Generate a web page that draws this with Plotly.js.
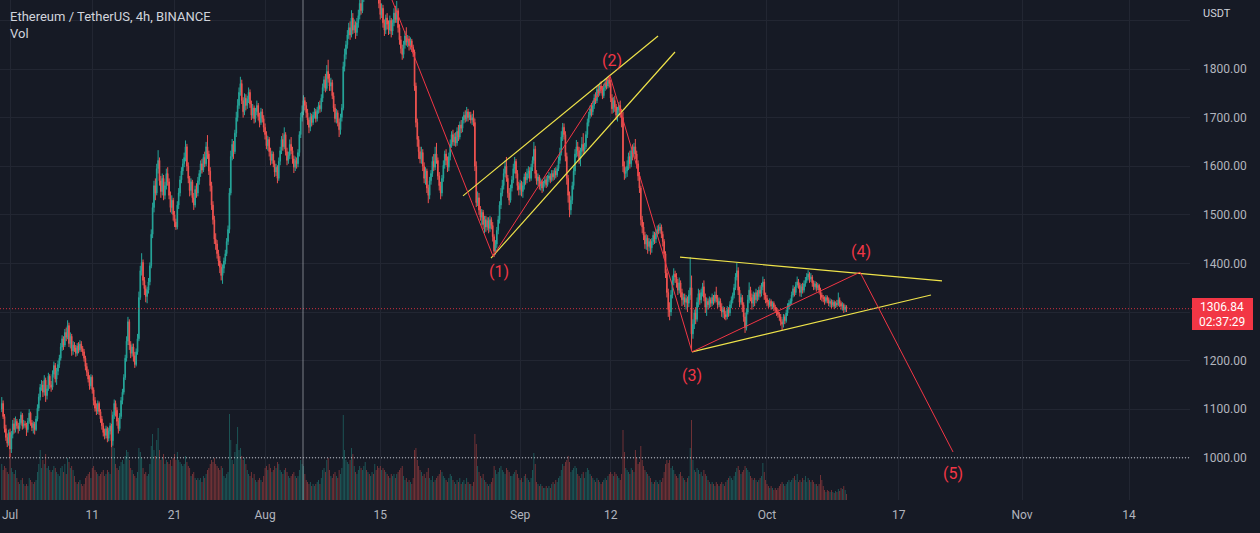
<!DOCTYPE html>
<html><head><meta charset="utf-8">
<script src="https://cdn.plot.ly/plotly-3.0.1.min.js"></script>
<style>html,body{margin:0;padding:0;background:#161a25;}#chart{width:1260px;height:533px;}</style>
</head><body><div id="chart"></div>
<script>
// ETH/USDT 4h candles, first bar 2022-06-30 00:00 UTC
const startTime = '2022-06-30T00:00:00Z';
const barHours = 4;

const open = [
1100,1112,1085,1060,1042,1030,
1052,1018,1048,1070,1058,1075, 1066,1060,1072,1088,1065,1070, 1068,1058,1075,1092,1072,1062, 1070,1058,1080,1102,1125,1145,
1150,1135,1160,1128,1142,1168, 1150,1145,1172,1190,1162,1178, 1192,1205,1228,1245,1232,1258, 1248,1272,1235,1250,1220,1232,
1226,1215,1230,1222,1234,1225, 1218,1205,1188,1176,1162,1148, 1166,1140,1118,1102,1096,1112, 1095,1080,1066,1052,1046,1060,
1040,1055,1066,1035,1088,1112, 1098,1075,1060,1085,1118,1135, 1165,1205,1240,1280,1232,1215, 1228,1210,1192,1218,1245,1330,
1385,1402,1365,1348,1332,1345, 1362,1395,1460,1515,1560,1545, 1595,1612,1570,1548,1575,1540, 1560,1585,1568,1540,1515,1530,
1500,1485,1475,1520,1545,1572, 1590,1605,1618,1640,1600,1575, 1550,1568,1535,1520,1552,1545, 1570,1585,1605,1592,1618,1605,
1640,1625,1590,1560,1520,1490, 1450,1440,1420,1405,1392,1375, 1390,1405,1420,1445,1470,1545, 1620,1645,1630,1668,1700,1725,
1752,1770,1735,1712,1740,1725, 1738,1752,1728,1705,1720,1698, 1712,1725,1702,1690,1712,1698,
1680,1665,1642,1655,1630,1612, 1625,1605,1588,1598,1575,1610, 1632,1655,1640,1665,1630,1612, 1622,1645,1632,1615,1598,1612,
1605,1628,1665,1700,1712,1735, 1725,1710,1695,1680,1702,1690, 1705,1712,1698,1715,1725,1718, 1740,1762,1778,1760,1795,1780,
1765,1772,1745,1720,1698,1710, 1690,1675,1700,1720,1805,1830, 1850,1870,1885,1870,1905,1880, 1890,1875,1895,1910,1935,1920,
1945,1965,1990,1975,1985,1978, 1985,2002,1995,2018,1990,1955, 1935,1912,1925,1895,1880,1905, 1892,1880,1900,1878,1895,1915,
1902,1920,1885,1860,1842,1830, 1850,1868,1855,1862,1848,1858, 1845,1835,1765,1690,1655,1630, 1615,1628,1600,1575,1590,1555,
1540,1570,1585,1610,1598,1625, 1612,1580,1560,1545,1575,1602, 1625,1612,1598,1620,1645,1665, 1650,1660,1648,1672,1660,1685,
1678,1695,1705,1698,1712,1700, 1705,1695,1700,1690,1600,1525, 1535,1510,1495,1505,1480,1490, 1475,1488,1472,1490,1478,1455,
1425,1440,1468,1490,1520,1545, 1560,1585,1600,1575,1545,1530, 1555,1572,1595,1610,1585,1560,
1552,1565,1548,1560,1578,1572, 1585,1590,1575,1598,1612,1635, 1585,1570,1578,1560,1568,1555, 1565,1572,1562,1575,1580,1572,
1585,1578,1590,1582,1595,1612, 1628,1660,1680,1665,1620,1575, 1540,1510,1530,1560,1590,1625, 1640,1632,1615,1630,1645,1632,
1640,1665,1690,1705,1718,1712, 1725,1740,1735,1758,1750,1765, 1758,1745,1762,1772,1765,1778, 1770,1740,1718,1735,1722,1705,
1715,1725,1710,1700,1600,1585, 1590,1600,1620,1605,1632,1625, 1640,1625,1605,1580,1555,1490, 1475,1458,1440,1452,1435,1445,
1432,1445,1458,1450,1462,1470, 1468,1475,1460,1445,1420,1380, 1340,1305,1300,1335,1365,1378, 1372,1360,1345,1360,1340,1325,
1330,1320,1328,1318,1335,1350, 1255,1275,1298,1285,1320,1338, 1325,1340,1352,1330,1310,1322, 1315,1325,1318,1330,1322,1335,
1328,1315,1322,1310,1300,1305, 1295,1290,1305,1298,1315,1325, 1335,1350,1372,1385,1345,1320, 1330,1315,1290,1268,1300,1325,
1345,1330,1318,1335,1325,1340, 1332,1345,1338,1352,1362,1335,
1328,1320,1315,1322,1312,1318, 1310,1305,1300,1295,1290,1280, 1275,1290,1282,1298,1310,1318, 1322,1335,1348,1340,1355,1362,
1355,1340,1352,1345,1358,1365, 1372,1378,1368,1372,1360,1352, 1358,1350,1355,1345,1335,1330, 1328,1322,1330,1325,1318,1322,
1315,1320,1312,1318,1315,1325, 1318,1312,1315,1305,1310
];

const high = [
1125,1118,1090,1068,1050,1058,
1060,1055,1078,1082,1085,1080, 1072,1080,1095,1092,1078,1076, 1072,1082,1100,1095,1078,1075, 1074,1086,1110,1132,1152,1160,
1158,1170,1165,1150,1175,1172, 1158,1180,1198,1195,1185,1200, 1212,1236,1252,1250,1265,1268, 1283,1278,1258,1255,1240,1238,
1232,1236,1238,1242,1240,1230, 1224,1210,1195,1182,1170,1172, 1170,1145,1125,1112,1118,1116, 1100,1086,1072,1060,1066,1064,
1062,1072,1070,1095,1120,1118, 1104,1082,1092,1125,1142,1172, 1212,1250,1290,1285,1240,1235, 1235,1218,1225,1255,1342,1395,
1421,1408,1372,1355,1352,1370, 1402,1470,1525,1570,1575,1605, 1633,1618,1580,1585,1582,1568, 1595,1598,1575,1548,1540,1535,
1508,1492,1528,1555,1580,1598, 1615,1628,1653,1646,1608,1580, 1575,1572,1545,1560,1565,1578, 1592,1612,1615,1625,1630,1650,
1664,1632,1598,1568,1528,1498, 1462,1448,1428,1415,1400,1398, 1412,1428,1452,1478,1555,1632, 1656,1652,1675,1712,1738,1762,
1784,1778,1742,1750,1748,1745, 1762,1758,1735,1728,1725,1720, 1735,1730,1710,1720,1718,1705,
1688,1672,1662,1660,1638,1632, 1630,1612,1605,1602,1618,1640, 1662,1668,1680,1670,1638,1630, 1655,1660,1640,1622,1620,1618,
1635,1672,1710,1725,1746,1742, 1732,1718,1700,1710,1708,1712, 1720,1718,1722,1732,1735,1748, 1770,1785,1790,1808,1819,1790,
1782,1778,1752,1728,1718,1715, 1698,1708,1728,1815,1842,1858, 1880,1895,1898,1921,1915,1902, 1898,1905,1922,1948,1950,1955,
1980,2010,2000,1995,1992,1994, 2015,2012,2030,2025,1995,1962, 1948,1935,1932,1902,1912,1915, 1900,1910,1905,1902,1925,1930,
1940,1925,1892,1868,1850,1858, 1878,1886,1870,1868,1865,1862, 1850,1840,1772,1698,1662,1640, 1640,1635,1608,1598,1595,1562,
1578,1592,1620,1625,1640,1648, 1618,1588,1568,1582,1612,1632, 1635,1620,1628,1655,1672,1675, 1668,1670,1680,1685,1692,1695,
1702,1712,1715,1722,1718,1712, 1712,1708,1715,1698,1610,1548, 1545,1518,1512,1510,1498,1498, 1495,1495,1498,1495,1485,1460,
1448,1475,1498,1528,1555,1572, 1595,1612,1619,1582,1555,1562, 1580,1605,1619,1615,1592,1568,
1572,1570,1568,1585,1588,1595, 1600,1598,1605,1620,1650,1642, 1592,1585,1582,1575,1572,1570, 1578,1580,1582,1588,1585,1592,
1592,1596,1598,1602,1620,1638, 1672,1689,1688,1672,1628,1582, 1548,1538,1568,1598,1635,1654, 1650,1640,1638,1660,1668,1648,
1672,1698,1712,1725,1730,1735, 1748,1752,1765,1768,1772,1775, 1765,1770,1780,1782,1785,1788, 1778,1748,1742,1745,1728,1722,
1732,1735,1718,1712,1610,1598, 1612,1628,1632,1640,1645,1648, 1656,1632,1612,1588,1560,1498, 1485,1465,1460,1458,1452,1450,
1452,1466,1465,1470,1478,1480, 1483,1480,1466,1450,1425,1388, 1348,1320,1345,1375,1390,1385, 1380,1368,1371,1365,1348,1338,
1338,1335,1332,1345,1413,1375, 1285,1305,1310,1330,1348,1345, 1348,1360,1365,1338,1330,1328, 1332,1330,1338,1335,1342,1352,
1335,1330,1328,1318,1312,1310, 1302,1312,1310,1322,1332,1340, 1358,1380,1401,1392,1352,1338, 1335,1320,1298,1308,1335,1361,
1352,1338,1342,1340,1348,1345, 1352,1355,1360,1373,1368,1340,
1335,1325,1328,1326,1322,1322, 1315,1310,1306,1300,1296,1285, 1296,1295,1305,1318,1325,1328, 1342,1355,1352,1362,1373,1368,
1360,1358,1360,1365,1372,1380, 1386,1382,1380,1376,1365,1364, 1362,1360,1358,1350,1340,1335, 1332,1335,1334,1330,1328,1326,
1325,1324,1322,1325,1340,1330, 1322,1320,1318,1315,1314
];

const low = [
1094,1080,1052,1035,1022,1025,
1001,1010,1040,1050,1052,1060, 1050,1055,1068,1058,1060,1062, 1045,1052,1070,1066,1055,1050, 1048,1055,1075,1096,1118,1138,
1125,1128,1115,1120,1138,1142, 1136,1140,1165,1155,1150,1170, 1185,1200,1220,1222,1228,1240, 1244,1228,1225,1210,1212,1218,
1208,1210,1215,1218,1218,1210, 1198,1180,1168,1155,1140,1142, 1132,1108,1095,1088,1090,1088, 1072,1058,1044,1038,1040,1032,
1034,1048,1022,1025,1080,1085, 1066,1050,1055,1080,1110,1130, 1160,1198,1232,1222,1205,1208, 1198,1185,1188,1212,1240,1325,
1375,1355,1335,1320,1318,1338, 1355,1390,1452,1505,1530,1540, 1585,1560,1535,1540,1530,1532, 1552,1560,1532,1505,1502,1488,
1475,1469,1470,1512,1538,1565, 1582,1598,1610,1590,1565,1538, 1540,1525,1510,1515,1535,1538, 1562,1578,1585,1588,1598,1600,
1615,1582,1548,1510,1480,1440, 1428,1410,1395,1380,1365,1358, 1380,1398,1415,1438,1462,1540, 1612,1615,1625,1660,1692,1718,
1745,1728,1700,1705,1715,1718, 1730,1720,1695,1698,1688,1690, 1705,1694,1680,1685,1690,1670,
1655,1635,1632,1620,1602,1605, 1598,1578,1580,1565,1570,1602, 1625,1632,1635,1622,1602,1605, 1615,1625,1605,1586,1590,1595,
1598,1620,1658,1692,1705,1715, 1700,1685,1668,1672,1682,1685, 1698,1690,1692,1708,1710,1712, 1732,1755,1752,1755,1772,1755,
1755,1738,1712,1690,1688,1682, 1660,1665,1692,1715,1795,1820, 1842,1862,1860,1865,1872,1874, 1862,1868,1885,1902,1912,1915,
1938,1958,1965,1968,1962,1970, 1978,1985,1990,1982,1945,1925, 1902,1905,1885,1868,1872,1882, 1870,1872,1865,1870,1888,1895,
1895,1875,1850,1832,1819,1822, 1842,1848,1845,1838,1840,1835, 1825,1755,1680,1640,1615,1606, 1605,1590,1565,1562,1545,1524,
1532,1562,1578,1590,1592,1605, 1572,1550,1532,1538,1568,1595, 1602,1588,1590,1612,1638,1642, 1642,1640,1642,1652,1655,1668,
1670,1688,1690,1692,1692,1695, 1688,1685,1682,1590,1516,1518, 1500,1488,1478,1470,1462,1465, 1468,1462,1465,1470,1445,1413,
1418,1432,1460,1482,1512,1538, 1552,1578,1568,1535,1520,1525, 1548,1565,1585,1575,1550,1540,
1540,1538,1535,1552,1562,1565, 1575,1568,1570,1590,1605,1575, 1562,1560,1552,1550,1545,1548, 1558,1555,1558,1568,1565,1568,
1570,1572,1575,1578,1590,1605, 1622,1652,1655,1610,1562,1525, 1495,1500,1522,1552,1582,1618, 1620,1605,1600,1622,1625,1625,
1635,1658,1682,1698,1702,1705, 1718,1728,1730,1742,1745,1750, 1738,1740,1755,1758,1760,1762, 1732,1708,1710,1712,1695,1692,
1705,1700,1680,1588,1572,1575, 1578,1592,1595,1598,1612,1618, 1615,1595,1570,1545,1478,1462, 1448,1430,1428,1420,1425,1418,
1422,1438,1440,1442,1455,1460, 1462,1452,1435,1410,1370,1330, 1290,1283,1292,1328,1355,1360, 1350,1335,1338,1330,1312,1315,
1310,1305,1300,1310,1325,1222, 1245,1265,1275,1280,1310,1315, 1318,1332,1322,1298,1292,1305, 1308,1310,1312,1315,1318,1320,
1308,1310,1302,1290,1288,1285, 1283,1285,1290,1292,1308,1318, 1328,1345,1365,1335,1310,1315, 1300,1280,1257,1262,1295,1318,
1322,1305,1310,1312,1318,1322, 1325,1330,1332,1345,1325,1318,
1312,1308,1310,1305,1306,1302, 1298,1292,1288,1282,1272,1263, 1268,1275,1278,1292,1305,1312, 1315,1330,1332,1335,1350,1348,
1332,1331,1338,1340,1352,1360, 1365,1360,1362,1352,1345,1346, 1342,1345,1338,1325,1322,1320, 1315,1318,1318,1312,1310,1308,
1310,1306,1308,1310,1312,1310, 1305,1303,1298,1300,1300
];

const close = [
1112,1085,1060,1042,1030,1052,
1018,1048,1070,1058,1075,1066, 1060,1072,1088,1065,1070,1068, 1058,1075,1092,1072,1062,1070, 1058,1080,1102,1125,1145,1150,
1135,1160,1128,1142,1168,1150, 1145,1172,1190,1162,1178,1192, 1205,1228,1245,1232,1258,1248, 1272,1235,1250,1220,1232,1226,
1215,1230,1222,1234,1225,1218, 1205,1188,1176,1162,1148,1166, 1140,1118,1102,1096,1112,1095, 1080,1066,1052,1046,1060,1040,
1055,1066,1035,1088,1112,1098, 1075,1060,1085,1118,1135,1165, 1205,1240,1280,1232,1215,1228, 1210,1192,1218,1245,1330,1385,
1402,1365,1348,1332,1345,1362, 1395,1460,1515,1560,1545,1595, 1612,1570,1548,1575,1540,1560, 1585,1568,1540,1515,1530,1500,
1485,1475,1520,1545,1572,1590, 1605,1618,1640,1600,1575,1550, 1568,1535,1520,1552,1545,1570, 1585,1605,1592,1618,1605,1640,
1625,1590,1560,1520,1490,1450, 1440,1420,1405,1392,1375,1390, 1405,1420,1445,1470,1545,1620, 1645,1630,1668,1700,1725,1752,
1770,1735,1712,1740,1725,1738, 1752,1728,1705,1720,1698,1712, 1725,1702,1690,1712,1698,1680,
1665,1642,1655,1630,1612,1625, 1605,1588,1598,1575,1610,1632, 1655,1640,1665,1630,1612,1622, 1645,1632,1615,1598,1612,1605,
1628,1665,1700,1712,1735,1725, 1710,1695,1680,1702,1690,1705, 1712,1698,1715,1725,1718,1740, 1762,1778,1760,1795,1780,1765,
1772,1745,1720,1698,1710,1690, 1675,1700,1720,1805,1830,1850, 1870,1885,1870,1905,1880,1890, 1875,1895,1910,1935,1920,1945,
1965,1990,1975,1985,1978,1985, 2002,1995,2018,1990,1955,1935, 1912,1925,1895,1880,1905,1892, 1880,1900,1878,1895,1915,1902,
1920,1885,1860,1842,1830,1850, 1868,1855,1862,1848,1858,1845, 1835,1765,1690,1655,1630,1615, 1628,1600,1575,1590,1555,1540,
1570,1585,1610,1598,1625,1612, 1580,1560,1545,1575,1602,1625, 1612,1598,1620,1645,1665,1650, 1660,1648,1672,1660,1685,1678,
1695,1705,1698,1712,1700,1705, 1695,1700,1690,1600,1525,1535, 1510,1495,1505,1480,1490,1475, 1488,1472,1490,1478,1455,1425,
1440,1468,1490,1520,1545,1560, 1585,1600,1575,1545,1530,1555, 1572,1595,1610,1585,1560,1552,
1565,1548,1560,1578,1572,1585, 1590,1575,1598,1612,1635,1585, 1570,1578,1560,1568,1555,1565, 1572,1562,1575,1580,1572,1585,
1578,1590,1582,1595,1612,1628, 1660,1680,1665,1620,1575,1540, 1510,1530,1560,1590,1625,1640, 1632,1615,1630,1645,1632,1640,
1665,1690,1705,1718,1712,1725, 1740,1735,1758,1750,1765,1758, 1745,1762,1772,1765,1778,1770, 1740,1718,1735,1722,1705,1715,
1725,1710,1700,1600,1585,1590, 1600,1620,1605,1632,1625,1640, 1625,1605,1580,1555,1490,1475, 1458,1440,1452,1435,1445,1432,
1445,1458,1450,1462,1470,1468, 1475,1460,1445,1420,1380,1340, 1305,1300,1335,1365,1378,1372, 1360,1345,1360,1340,1325,1330,
1320,1328,1318,1335,1350,1255, 1275,1298,1285,1320,1338,1325, 1340,1352,1330,1310,1322,1315, 1325,1318,1330,1322,1335,1328,
1315,1322,1310,1300,1305,1295, 1290,1305,1298,1315,1325,1335, 1350,1372,1385,1345,1320,1330, 1315,1290,1268,1300,1325,1345,
1330,1318,1335,1325,1340,1332, 1345,1338,1352,1362,1335,1328,
1320,1315,1322,1312,1318,1310, 1305,1300,1295,1290,1280,1275, 1290,1282,1298,1310,1318,1322, 1335,1348,1340,1355,1362,1355,
1340,1352,1345,1358,1365,1372, 1378,1368,1372,1360,1352,1358, 1350,1355,1345,1335,1330,1328, 1322,1330,1325,1318,1322,1315,
1320,1312,1318,1315,1325,1318, 1312,1315,1305,1310,1306.84
];

// volume, thousand ETH per 4h bar
const volume = [
180,150,170,160,140,130,
230,160,140,130,150,110, 90,80,100,110,80,70, 80,70,110,100,90,80, 90,100,140,180,250,160,
200,180,230,160,170,150, 140,150,170,160,140,130, 120,160,170,140,180,130, 210,190,160,170,150,120,
90,80,90,100,80,70, 80,110,120,130,140,110, 160,170,150,140,130,120, 130,140,150,120,130,150,
140,130,450,330,260,180, 160,150,170,190,200,180, 220,250,240,200,160,150, 130,120,110,140,260,240,
210,160,130,140,120,130, 180,270,330,250,220,300, 360,250,200,210,230,180, 200,190,180,200,170,210,
230,200,240,200,190,180, 170,180,220,190,170,160, 120,130,140,110,100,110, 100,110,90,120,110,130,
150,160,180,200,190,210, 180,170,160,150,170,160, 120,110,130,140,430,300, 200,180,240,280,365,250,
260,220,200,210,180,150, 130,120,140,110,130,100, 90,100,110,100,90,120,
160,170,150,180,160,140, 150,170,160,190,180,150, 140,130,150,160,140,120, 110,120,130,140,120,110,
120,150,200,180,170,130, 100,90,80,90,70,80, 70,80,90,100,80,110, 150,160,140,200,210,150,
120,110,130,140,120,110, 150,130,160,425,250,200, 190,180,200,260,230,170, 140,130,150,170,160,150,
170,190,150,140,130,120, 140,130,180,150,170,160, 170,150,160,150,140,130, 120,110,130,120,130,110,
130,140,150,160,170,120, 100,110,90,100,90,80, 110,250,260,200,170,150, 140,120,130,110,140,160,
110,100,120,90,100,110, 120,130,150,140,120,110, 100,90,110,130,120,100, 90,80,100,90,110,80,
90,100,80,110,90,80, 80,70,90,330,280,170, 140,120,110,130,100,90, 80,70,80,90,110,170,
150,130,140,160,170,150, 140,130,160,150,140,120, 120,130,140,150,130,110,
100,110,90,120,130,110, 100,90,110,150,235,180, 90,80,70,80,70,60, 60,70,60,70,60,80,
90,80,100,90,110,120, 150,180,170,190,200,220, 190,140,150,160,170,160, 130,120,110,130,140,110,
140,160,150,130,120,110, 100,90,110,100,90,80, 90,100,110,100,120,130, 140,130,120,140,130,120,
110,100,130,350,240,160, 150,140,130,160,150,140, 250,210,180,190,270,200, 170,150,140,130,120,110,
90,80,90,100,90,80, 100,90,110,140,180,200, 185,200,160,170,150,130, 120,110,130,140,120,110,
100,90,110,120,260,400, 200,150,140,160,150,130, 140,120,150,130,120,100, 90,80,90,80,70,90,
80,70,80,90,80,70, 90,100,110,120,110,100, 120,140,160,170,150,130, 140,150,170,160,150,140,
120,110,100,110,100,90, 100,110,120,185,140,100,
80,70,60,70,60,50, 60,50,60,70,80,90, 80,70,80,90,100,90, 100,110,120,100,130,90,
100,90,110,100,120,90, 110,100,90,100,90,80, 80,70,80,125,100,70, 50,40,50,45,40,50,
40,35,45,40,55,45, 60,55,70,50,30
];

// axis ticks
const xTickVals = ['2022-07-01','2022-07-11','2022-07-21','2022-08-01','2022-08-15','2022-09-01','2022-09-12','2022-10-01','2022-10-17','2022-11-01','2022-11-14'];
const xTickText = ['Jul','11','21','Aug','15','Sep','12','Oct','17','Nov','14'];
const yTickVals = [1000,1100,1200,1300,1400,1500,1600,1700,1800,1900];
const yTickText = ['1000.00','1100.00','1200.00','','1400.00','1500.00','1600.00','1700.00','1800.00',''];

// drawings (time, price)
const waveX = ['2022-08-16 10:19','2022-08-28 16:50','2022-09-11 22:00','2022-09-21 21:20','2022-10-12 07:25','2022-10-23 14:40'];
const waveY = [1942,1415,1786,1218,1382,1012];
const chanUpX = ['2022-08-25 01:20','2022-09-17 18:10'], chanUpY = [1539,1868];
const chanLoX = ['2022-08-28 11:00','2022-09-19 19:40'], chanLoY = [1411,1835];
const triUpX = ['2022-09-20 10:20','2022-10-22 06:30'], triUpY = [1413,1364];
const triLoX = ['2022-09-21 21:20','2022-10-20 22:20'], triLoY = [1218,1335];
const waveLabels = ['(1)','(2)','(3)','(4)','(5)'];
const waveLabelX = ['2022-08-29 10:20','2022-09-12 04:50','2022-09-21 20:25','2022-10-12 10:20','2022-10-23 15:35'];
const waveLabelY = [1383,1818,1170,1424,968];
const vLineX = '2022-08-05 14:40';
const levelLine = 1000;
const countdown = '02:37:29';

const N = Math.min(open.length, high.length, low.length, close.length, volume.length);
const t0 = Date.parse(startTime);
function fmt(ms){ return new Date(ms).toISOString().slice(0,16).replace('T',' '); }
const times = [];
for (let i = 0; i < N; i++) times.push(fmt(t0 + i * barHours * 3600e3));
const volColors = [];
for (let i = 0; i < N; i++) volColors.push(close[i] >= open[i] ? 'rgba(38,166,154,0.5)' : 'rgba(239,83,80,0.5)');
const last = close[N-1];

const RED = '#f23645', YEL = '#efe34a', FONT = 'Roboto, "Open Sans", sans-serif';

const traces = [
  {type:'bar', x:times, y:volume.slice(0,N), yaxis:'y2', marker:{color:volColors, line:{width:0}},
   width: barHours*3600e3*0.6, hoverinfo:'skip'},
  {type:'candlestick', x:times, open:open.slice(0,N), high:high.slice(0,N), low:low.slice(0,N), close:close.slice(0,N),
   increasing:{line:{color:'#26a69a', width:1}, fillcolor:'#26a69a'},
   decreasing:{line:{color:'#ef5350', width:1}, fillcolor:'#ef5350'},
   whiskerwidth:0, hoverinfo:'skip'},
  {type:'scatter', mode:'lines', x:chanUpX, y:chanUpY, line:{color:YEL, width:1.2}, hoverinfo:'skip'},
  {type:'scatter', mode:'lines', x:chanLoX, y:chanLoY, line:{color:YEL, width:1.2}, hoverinfo:'skip'},
  {type:'scatter', mode:'lines', x:triUpX, y:triUpY, line:{color:YEL, width:1.2}, hoverinfo:'skip'},
  {type:'scatter', mode:'lines', x:triLoX, y:triLoY, line:{color:YEL, width:1.2}, hoverinfo:'skip'},
  {type:'scatter', mode:'lines', x:waveX, y:waveY, line:{color:RED, width:1}, hoverinfo:'skip'}
];

const annotations = waveLabels.map((t,i)=>({x:waveLabelX[i], y:waveLabelY[i], xref:'x', yref:'y', text:t, showarrow:false,
  font:{family:FONT, size:16, color:RED}, xanchor:'center', yanchor:'middle'}));
annotations.push(
  {xref:'paper', yref:'paper', x:8/1190, y:1-16/500, xanchor:'left', yanchor:'middle', showarrow:false,
   text:'Ethereum / TetherUS, 4h, BINANCE', font:{family:FONT, size:13, color:'#d1d4dc'}},
  {xref:'paper', yref:'paper', x:8/1190, y:1-33/500, xanchor:'left', yanchor:'middle', showarrow:false,
   text:'Vol', font:{family:FONT, size:13, color:'#d1d4dc'}},
  {xref:'paper', yref:'paper', x:1201/1190, y:1-13/500, xanchor:'left', yanchor:'middle', showarrow:false,
   text:'USDT', font:{family:FONT, size:11, color:'#d1d4dc'}},
  {xref:'paper', yref:'paper', x:1222.5/1190, y:1-306.5/500, xanchor:'center', yanchor:'middle', showarrow:false,
   text:last.toFixed(2), font:{family:FONT, size:12, color:'#ffffff'}},
  {xref:'paper', yref:'paper', x:1222.5/1190, y:1-321.5/500, xanchor:'center', yanchor:'middle', showarrow:false,
   text:countdown, font:{family:FONT, size:12, color:'#ffffff'}}
);

const shapes = [
  {type:'line', xref:'paper', yref:'y', x0:0, x1:1, y0:levelLine, y1:levelLine, line:{color:'rgba(215,218,226,0.9)', width:1, dash:'1px,2px'}},
  {type:'line', xref:'paper', yref:'y', x0:0, x1:1.002, y0:last, y1:last, line:{color:'rgba(242,54,69,0.85)', width:1, dash:'1px,2px'}},
  {type:'line', xref:'x', yref:'paper', x0:vLineX, x1:vLineX, y0:0, y1:1, line:{color:'rgba(190,193,202,0.6)', width:1}},
  {type:'rect', xref:'paper', yref:'paper', x0:1192/1190, x1:1253/1190, y0:1-330/500, y1:1-298/500, fillcolor:RED, line:{width:0}}
];

const layout = {
  width:1260, height:533,
  paper_bgcolor:'#161a25', plot_bgcolor:'#161a25',
  margin:{l:0, r:70, t:0, b:33},
  showlegend:false, bargap:0.3, dragmode:false,
  font:{family:FONT, color:'#b2b5be', size:12},
  xaxis:{type:'date', range:['2022-06-29 18:50','2022-11-21 09:50'], tickvals:xTickVals, ticktext:xTickText,
    showgrid:true, gridcolor:'#222632', gridwidth:1, zeroline:false, showline:false, ticks:'',
    tickfont:{family:FONT, size:12, color:'#b2b5be'}, ticklabelstandoff:6,
    rangeslider:{visible:false}, fixedrange:true},
  yaxis:{side:'right', range:[913.2,1942], tickvals:yTickVals, ticktext:yTickText,
    showgrid:true, gridcolor:'#222632', gridwidth:1, zeroline:false, showline:false, ticks:'',
    tickfont:{family:FONT, size:12, color:'#b2b5be'}, ticklabelstandoff:12, fixedrange:true},
  yaxis2:{overlaying:'y', side:'left', range:[0,2500], visible:false, showgrid:false, fixedrange:true},
  shapes:shapes, annotations:annotations
};

Plotly.newPlot('chart', traces, layout, {displayModeBar:false, staticPlot:true});
</script>
</body></html>
